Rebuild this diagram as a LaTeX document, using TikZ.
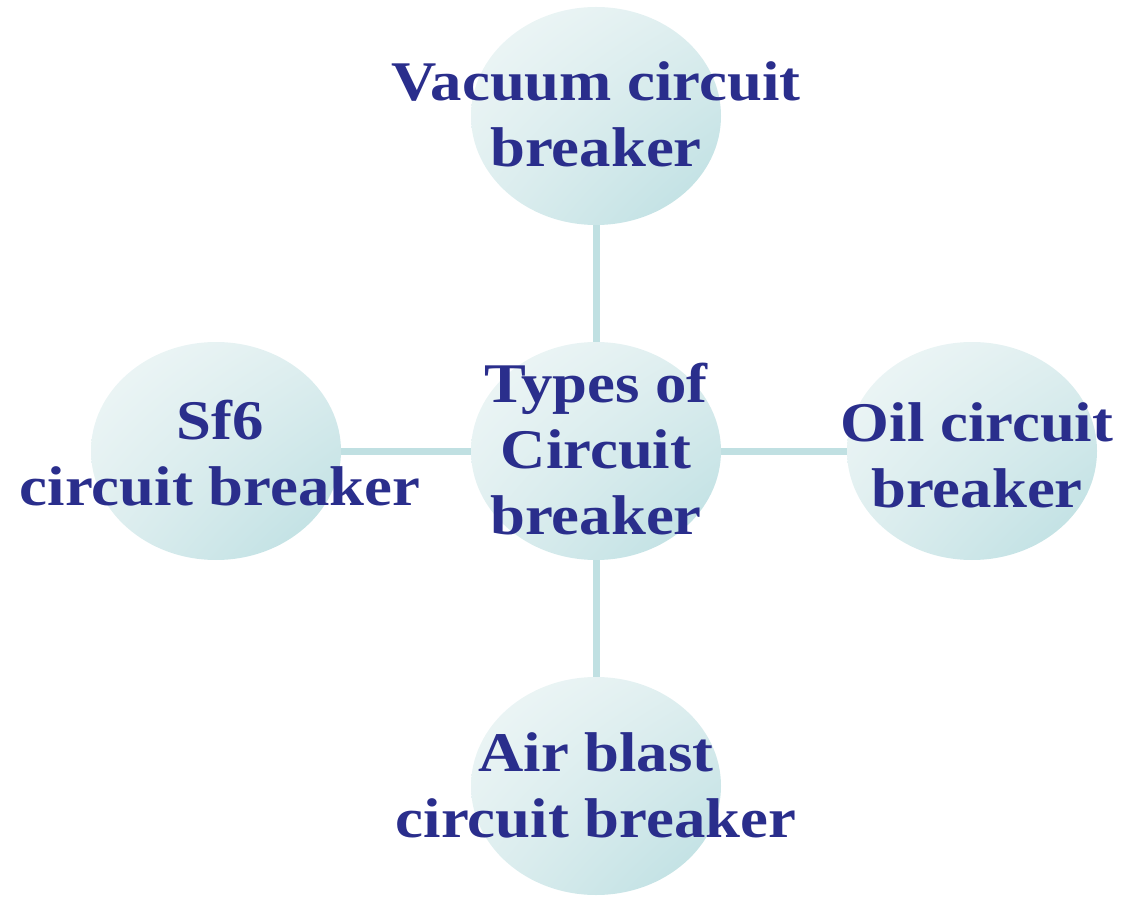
\documentclass[tikz,border=0pt]{standalone}
\usepackage{fontspec}
\newfontfamily\tfont[FakeStretch=1.12]{Liberation Serif}
\usetikzlibrary{shapes.geometric,shadings}
\definecolor{txtblue}{RGB}{42,46,140}
\definecolor{linkcol}{RGB}{192,224,226}
\definecolor{bubA}{RGB}{240,247,247}
\definecolor{bubB}{RGB}{222,238,239}
\definecolor{bubC}{RGB}{186,222,225}
\tikzset{
  bubble/.style={ellipse, minimum width=250pt, minimum height=218pt, inner sep=0pt,
    upper left=bubA, upper right=bubB, lower left=bubB, lower right=bubC},
  label/.style={text=txtblue, align=center, inner sep=0pt,
    font=\tfont\bfseries\fontsize{56}{66}\selectfont},
  link/.style={draw=linkcol, line width=7pt}
}
\begin{document}
\begin{tikzpicture}[x=1pt,y=1pt]
\useasboundingbox (0,0) rectangle (1126,898);
\node[bubble] (top) at (596,782) {};
\node[bubble] (ctr) at (596,447) {};
\node[bubble] (lft) at (216,447) {};
\node[bubble] (rgt) at (972,447) {};
\node[bubble] (bot) at (596,112) {};
\draw[link] (top) -- (ctr);
\draw[link] (lft) -- (ctr);
\draw[link] (rgt) -- (ctr);
\draw[link] (bot) -- (ctr);
\node[label] (ttop) at (596,784) {Vacuum circuit\\breaker};
\node[label] (tctr) at (596,449) {Types of\\Circuit\\breaker};
\node[label] (tlft) at (220,445) {Sf6\\circuit breaker};
\node[label] (trgt) at (977,443) {Oil circuit\\breaker};
\node[label] (tbot) at (596,113) {Air blast\\circuit breaker};
\end{tikzpicture}
\end{document}
